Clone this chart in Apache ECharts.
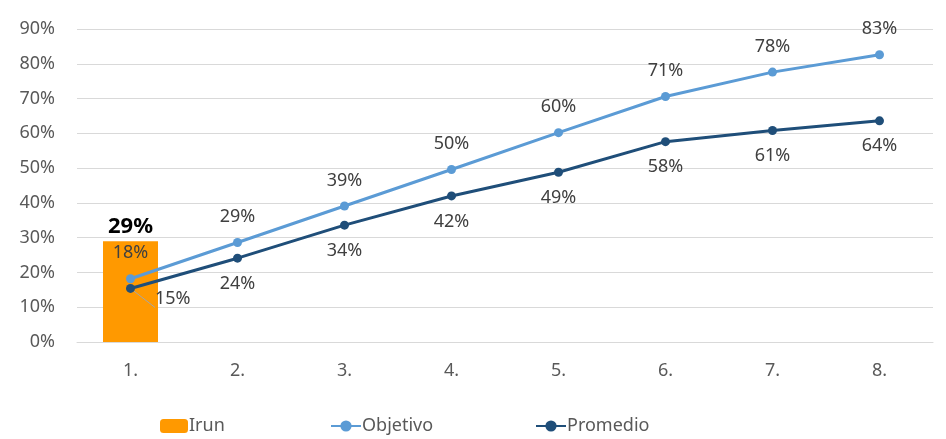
<!DOCTYPE html>
<html><head><meta charset="utf-8">
<script src="https://cdn.jsdelivr.net/npm/echarts@6/dist/echarts.min.js"></script>
<style>html,body{margin:0;padding:0;background:#fff}#c{width:946px;height:439px}</style>
</head><body><div id="c"></div>
<script>
const categories = ['1.', '2.', '3.', '4.', '5.', '6.', '7.', '8.'];
const irun = [0.29, null, null, null, null, null, null, null];
const objetivo = [0.182, 0.286, 0.391, 0.496, 0.602, 0.706, 0.776, 0.826];
const promedio = [0.154, 0.241, 0.336, 0.42, 0.488, 0.576, 0.608, 0.636];

const FONT = 'Noto Sans';
const pct = p => Math.round(p.value * 100) + '%';
const chart = echarts.init(document.getElementById('c'));
const legText = { fontSize: 18, color: '#595959', fontFamily: FONT, padding: [0,0,0,-4] };
chart.setOption({
  animation: false,
  textStyle: { fontFamily: FONT },
  grid: { left: 77, right: 13, top: 29, bottom: 97 },
  legend: [
    { data: ['Irun'], left: 155, top: 412, itemWidth: 28, itemHeight: 14, textStyle: legText },
    { data: ['Objetivo'], left: 325, top: 412, itemWidth: 30, itemHeight: 14, textStyle: legText },
    { data: ['Promedio'], left: 530, top: 412, itemWidth: 30, itemHeight: 14, textStyle: legText }
  ],
  xAxis: {
    type: 'category', data: categories,
    axisLine: { show: true, lineStyle: { color: '#d9d9d9' } },
    axisTick: { show: false },
    axisLabel: { fontSize: 18, color: '#595959', margin: 20, fontFamily: FONT }
  },
  yAxis: {
    type: 'value', min: 0, max: 0.9, interval: 0.1,
    axisLabel: { fontSize: 18, color: '#595959', margin: 22, fontFamily: FONT,
      formatter: v => Math.round(v * 100) + '%' },
    splitLine: { lineStyle: { color: '#d9d9d9' } },
    axisLine: { show: false }, axisTick: { show: false }
  },
  series: [
    { name: 'Irun', type: 'bar', data: irun, barWidth: 55,
      itemStyle: { color: '#FF9900' },
      label: { show: true, position: 'top', distance: 3, formatter: pct,
        fontSize: 22, fontWeight: 'bold', color: '#000', fontFamily: FONT } },
    { name: 'Objetivo', type: 'line', data: objetivo, symbol: 'circle', symbolSize: 9,
      itemStyle: { color: '#5B9BD5' }, lineStyle: { width: 3, color: '#5B9BD5' },
      label: { show: true, position: 'top', distance: 12, formatter: pct,
        fontSize: 18, color: '#404040', fontFamily: FONT } },
    { name: 'Promedio', type: 'line', data: promedio.map((v, i) => i === 0 ? {
        value: v, label: { position: 'right', offset: [8, 10] },
        labelLine: { show: true, lineStyle: { color: '#a6a6a6', width: 1 } } } : v),
      symbol: 'circle', symbolSize: 9,
      itemStyle: { color: '#1F4E79' }, lineStyle: { width: 3, color: '#1F4E79' },
      label: { show: true, position: 'bottom', distance: 12, formatter: pct,
        fontSize: 18, color: '#404040', fontFamily: FONT } }
  ]
});
</script></body></html>
